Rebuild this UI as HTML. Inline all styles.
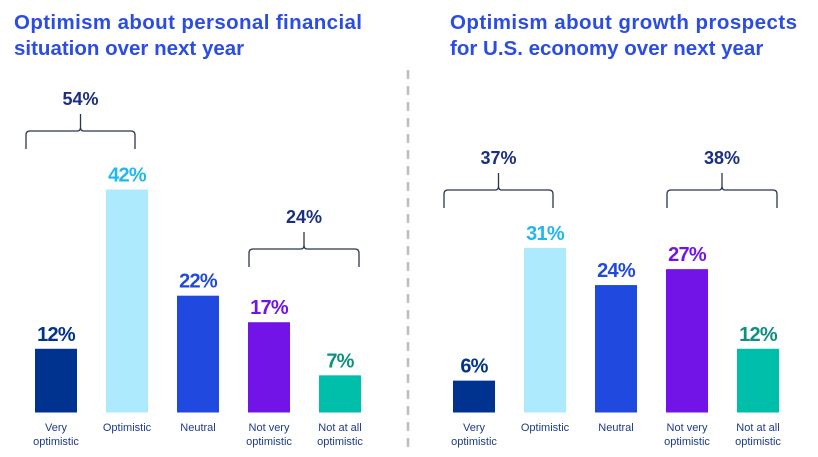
<!DOCTYPE html>
<html><head><meta charset="utf-8"><style>
body{margin:0;background:#fff;width:818px;height:457px;overflow:hidden}
svg{display:block}
.t{font-family:"Liberation Sans",sans-serif;font-weight:bold;font-size:20.5px;fill:#2b4de3}
.c{font-family:"Liberation Sans",sans-serif;font-size:11px;fill:#1f3a8a;text-anchor:middle}
.v{font-family:"Liberation Sans",sans-serif;font-weight:bold;font-size:20px;text-anchor:middle;letter-spacing:-0.8px}
.b{font-family:"Liberation Sans",sans-serif;font-weight:bold;font-size:18px;fill:#1a2f80;text-anchor:middle}
</style></head><body>
<svg id="s" width="818" height="457">
<text class="t" x="14" y="29" textLength="348">Optimism about personal financial</text>
<text class="t" x="14" y="55">situation over next year</text>
<text class="t" x="450" y="29" textLength="347">Optimism about growth prospects</text>
<text class="t" x="450" y="55">for U.S. economy over next year</text>
<line x1="408" y1="70" x2="408" y2="452" stroke="#bbb" stroke-width="2.5" stroke-dasharray="9,7"/>
</svg>
<script>
const categories=["Very|optimistic","Optimistic","Neutral","Not very|optimistic","Not at all|optimistic"];
const personalValues=[12,42,22,17,7];
const economyValues=[6,31,24,27,12];
const personalGroups=[[0,1,54],[3,4,24]];
const economyGroups=[[0,1,37],[3,4,38]];
const colors=["#00328f","#aeeafd","#2049e0","#7214e8","#00bfaa"];
const labelColors=["#00328f","#20b8ef","#2049e0","#7214e8","#0f8f80"];
const s=document.getElementById('s');
const NS="http://www.w3.org/2000/svg";
const base=412.5,scale=5.31,bw=42;
function mk(tag,attrs,parent){const e=document.createElementNS(NS,tag);for(const k in attrs)e.setAttribute(k,attrs[k]);(parent||s).appendChild(e);return e;}
function y(v){return base-v*scale;}
function drawPanel(x0,vals,groups,pre,lys){
  const xs=i=>x0+i*71;
  vals.forEach((v,i)=>{
    const r=mk('rect',{x:xs(i),y:y(v),width:bw,height:v*scale,fill:colors[i]});
    
    
    const t=mk('text',{x:xs(i)+bw/2,y:y(v)-8,class:'v',fill:labelColors[i]});t.textContent=v+'%';
    
    
    const parts=categories[i].split('|');
    parts.forEach((p,j)=>{const c=mk('text',{x:xs(i)+bw/2,y:431+j*14,class:'c'});c.textContent=p;
      
      });
  });
  groups.forEach((g,k)=>{
    const a=k==0?xs(g[0])-9:xs(g[0])+1, b=k==0?xs(g[1])+bw-13:xs(g[1])+bw-2;
    const ly=lys[k],m=(a+b)/2;
    const p=mk('path',{d:`M${a},${ly+18} L${a},${ly+4} Q${a},${ly} ${a+4},${ly} L${m-3},${ly} Q${m},${ly} ${m},${ly-4} L${m},${ly-17} M${m},${ly-4} Q${m},${ly} ${m+3},${ly} L${b-4},${ly} Q${b},${ly} ${b},${ly+4} L${b},${ly+18}`,fill:'none',stroke:'#2a3550','stroke-width':1.3});
    
    
    const t=mk('text',{x:m,y:ly-26,class:'b'});t.textContent=g[2]+'%';
    
    
  });
}
drawPanel(35,personalValues,personalGroups,'personal',[131,249]);
drawPanel(453,economyValues,economyGroups,'economy',[190,190]);
</script>
</body></html>
